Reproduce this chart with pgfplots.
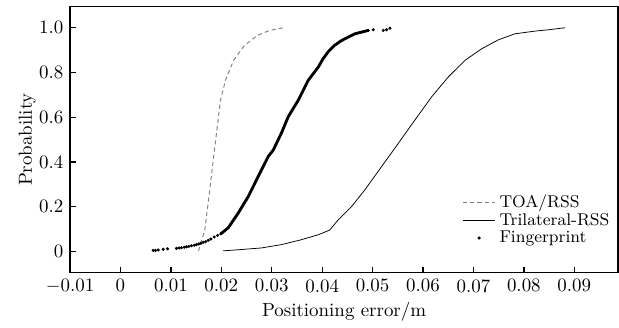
\documentclass[border=0pt]{standalone}
\usepackage{pgfplots}
\pgfplotsset{compat=1.18}
\begin{document}
\begin{tikzpicture}
\begin{axis}[
  scale only axis,
  width=289.5pt, height=140.5pt,
  xmin=-0.01, xmax=0.0987,
  ymin=-0.095, ymax=1.095,
  scaled x ticks=false,
  axis line style={line width=0.9pt},
  tick align=inside,
  xtick pos=left, ytick pos=left,
  major tick length=3pt,
  tick style={line width=0.7pt, black},
  xtick={-0.01,0,0.01,0.02,0.03,0.04,0.05,0.06,0.07,0.08,0.09},
  xticklabels={$-0.01$,0,0.01,0.02,0.03,0.04,0.05,0.06,0.07,0.08,0.09},
  ytick={0,0.2,0.4,0.6,0.8,1.0},
  yticklabels={0,0.2,0.4,0.6,0.8,1.0},
  xlabel={Positioning error/m},
  ylabel={Probability},
  xlabel style={yshift=2pt},
  ylabel style={yshift=-5pt},
  legend style={draw=none, fill=none, at={(0.995,0.08)}, anchor=south east,
    font=\small, row sep=-2.5pt, inner sep=1pt},
  legend cell align=left,
]
\addplot[gray, line width=0.5pt, dash pattern=on 2.2pt off 1.6pt] coordinates {
(0.01548,0.002) (0.01673,0.097) (0.01746,0.23) (0.01865,0.455) (0.01984,0.677)
(0.02083,0.765) (0.02242,0.854) (0.02460,0.921) (0.02718,0.966) (0.02956,0.988)
(0.03234,1.0)
};
\addlegendentry{TOA/RSS}
\addplot[black, line width=0.4pt] coordinates {
(0.02038,0.002) (0.02401,0.008) (0.02798,0.015) (0.03194,0.030) (0.03591,0.052)
(0.03923,0.074) (0.04150,0.095) (0.04319,0.141) (0.04583,0.200) (0.04847,0.275)
(0.05179,0.379) (0.05510,0.483) (0.05839,0.587) (0.06171,0.691) (0.06502,0.780)
(0.06831,0.854) (0.07163,0.906) (0.07494,0.946) (0.07823,0.973) (0.08220,0.985)
(0.08486,0.991) (0.08815,1.0)
};
\addlegendentry{Trilateral-RSS}
\addplot[only marks, mark=*, mark size=0.6pt, black] coordinates {
(0.00649,0.004) (0.00694,0.004) (0.00748,0.006) (0.00847,0.009) (0.00933,0.011)
(0.01111,0.013) (0.01165,0.015) (0.01210,0.016) (0.01264,0.018) (0.01310,0.020)
(0.01356,0.022) (0.01409,0.025) (0.01462,0.027) (0.01508,0.030) (0.01554,0.033)
(0.01594,0.036) (0.01640,0.040) (0.01687,0.043) (0.01740,0.049) (0.01792,0.055)
(0.01859,0.064) (0.01925,0.071) (0.01990,0.078)
(0.04914,0.988) (0.05014,0.991) (0.05212,0.988) (0.05278,0.991) (0.05343,0.998)
};
\addlegendentry{Fingerprint}
\addplot[black, line width=1.5pt, line join=round, line cap=round, forget plot] coordinates {
(0.01990,0.078) (0.02137,0.105) (0.02335,0.171) (0.02534,0.245) (0.02732,0.335)
(0.02930,0.424) (0.03030,0.453) (0.03194,0.530) (0.03327,0.602) (0.03526,0.676)
(0.03724,0.765) (0.03923,0.824) (0.04020,0.862) (0.04121,0.893) (0.04250,0.922)
(0.04385,0.943) (0.04649,0.973) (0.04914,0.988)
};
\end{axis}
\path ([yshift=3pt]current bounding box.north);
\path ([xshift=-6.5pt]current bounding box.west);
\end{tikzpicture}
\end{document}
